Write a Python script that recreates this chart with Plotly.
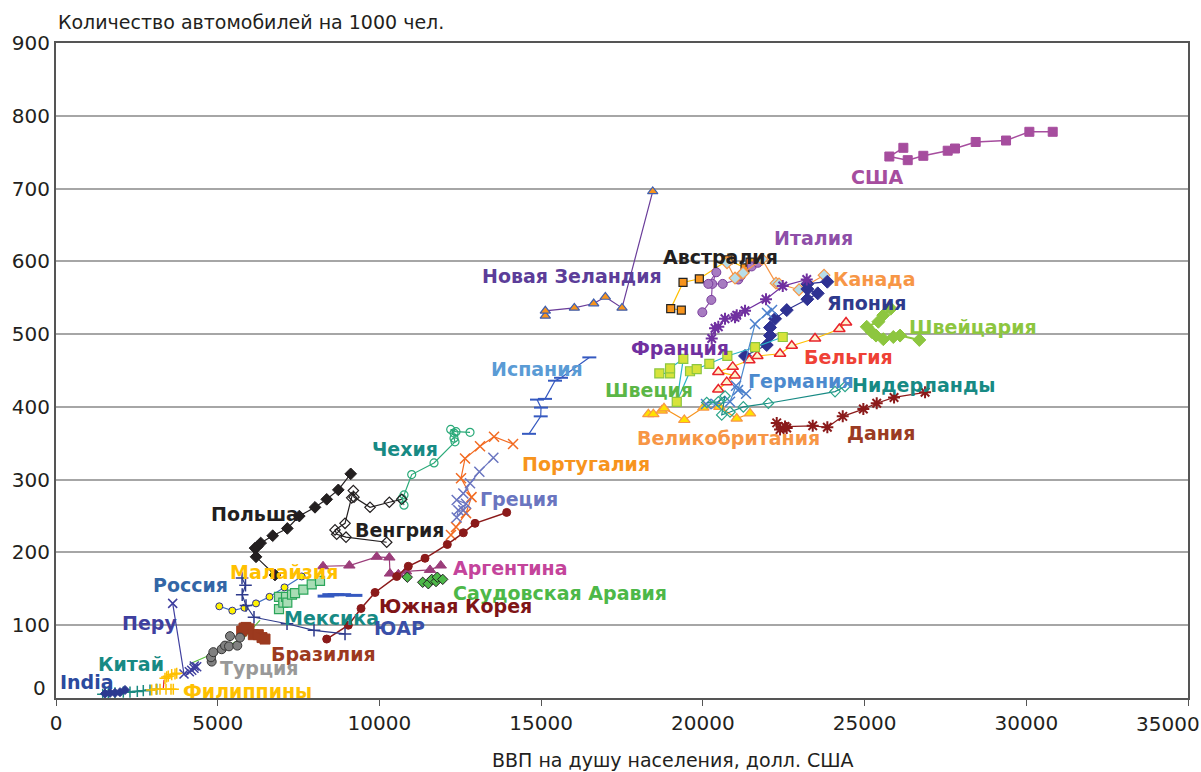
import plotly.graph_objects as go

# ВВП на душу населения (x) и автомобили на 1000 чел. (y) по странам
usa_gdp = [26199, 25766, 26334, 26817, 27570, 27796, 28436, 29374, 30095, 30817]
usa_cars = [756, 744, 739, 745, 752, 755, 764, 766, 778, 778]

nz_gdp = [15129, 15129, 16026, 16625, 16985, 17501, 18450]
nz_cars = [525, 532, 536, 542, 551, 536, 696]

aus_gdp = [19334, 19006, 19387, 19891, 20778, 21304, 21459]
aus_cars = [533, 535, 571, 576, 602, 591, 599]

ita_gdp = [19984, 20262, 20293, 20417, 20169, 20614, 21097, 21171, 21511, 21700]
ita_cars = [530, 547, 569, 585, 569, 569, 575, 580, 593, 598]

can_gdp = [20747, 20994, 21242, 21830, 22262, 22355, 22974, 23747]
can_cars = [598, 577, 584, 603, 570, 569, 561, 581]

jpn_gdp = [21304, 21975, 22077, 22077, 22232, 22594, 23230, 23552, 23230, 23230, 23849]
jpn_cars = [470, 485, 498, 509, 521, 533, 548, 556, 562, 569, 572]

fra_gdp = [20274, 20376, 20478, 20685, 20994, 21047, 21304, 21953, 22470, 23212]
fra_cars = [494, 508, 510, 521, 523, 526, 532, 548, 566, 575]

bel_gdp = [20478, 20738, 20994, 20478, 20923, 21437, 21684, 22386, 22748, 23468, 24220, 24427]
bel_cars = [424, 434, 443, 448, 455, 464, 470, 473, 484, 494, 507, 516]

swe_gdp = [18654, 18985, 18985, 19396, 19193, 19603, 19810, 20200, 20757, 21613, 22470]
swe_cars = [446, 446, 453, 466, 407, 449, 452, 459, 470, 482, 496]

gbr_gdp = [18314, 18469, 18728, 18799, 19427, 20015, 20510, 21047, 21458]
gbr_cars = [390, 390, 395, 398, 382, 399, 400, 384, 391]

deu_gdp = [20098, 20407, 20840, 21026, 21335, 21088, 21613, 21984, 22139]
deu_cars = [404, 404, 407, 429, 418, 423, 514, 529, 533]

nld_gdp = [20120, 20478, 20685, 20583, 20840, 21252, 22025, 24087, 24396]
nld_cars = [406, 407, 415, 389, 393, 400, 405, 421, 428]

dnk_gdp = [22284, 22386, 22593, 22541, 23397, 23849, 24325, 24962, 25376, 25911, 26870]
dnk_cars = [378, 369, 371, 373, 374, 372, 387, 397, 405, 413, 420]

che_gdp = [25809, 25580, 25426, 25067, 25221, 25354, 25580, 25889, 26097, 26693]
che_cars = [535, 526, 517, 510, 503, 498, 493, 496, 498, 492]

esp_gdp = [14625, 14987, 14996, 14872, 15120, 15429, 15615, 16490]
esp_cars = [363, 387, 399, 410, 411, 436, 440, 468]

prt_gdp = [12213, 12368, 12677, 12847, 12523, 12646, 13110, 13543, 14131]
prt_cars = [224, 235, 254, 276, 302, 329, 346, 359, 349]

grc_gdp = [12389, 12439, 12594, 12677, 12389, 12594, 12801, 13089, 13522]
grc_cars = [248, 258, 258, 267, 272, 281, 295, 311, 330]

cze_gdp = [10760, 10698, 10760, 10998, 11688, 12337, 12306, 12306, 12204, 12368, 12801]
cze_cars = [265, 274, 279, 307, 323, 352, 357, 364, 369, 366, 365]

hun_gdp = [10225, 8967, 8679, 8627, 8936, 9143, 9193, 9214, 9709, 10306, 10689]
hun_cars = [214, 221, 225, 231, 240, 275, 285, 276, 262, 269, 273]

pol_gdp = [6771, 6184, 6153, 6224, 6329, 6700, 7152, 7523, 8008, 8370, 8729, 9112]
pol_cars = [169, 194, 206, 208, 213, 223, 233, 250, 262, 273, 286, 308]

arg_gdp = [8256, 9070, 9916, 10306, 10327, 10584, 10822, 11564, 11895]
arg_cars = [181, 182, 194, 193, 171, 170, 174, 176, 182]

sau_gdp = [10862, 11338, 11511, 11617, 11750, 11790, 11957]
sau_cars = [166, 159, 157, 163, 160, 166, 163]

kor_gdp = [8370, 9038, 9431, 9864, 10535, 10893, 11409, 12099, 12594, 12955, 13935]
kor_cars = [81, 100, 123, 145, 167, 181, 192, 211, 227, 240, 255]

mys_gdp = [5049, 5451, 5828, 6184, 6601, 7065, 7597]
mys_cars = [126, 120, 124, 130, 139, 152, 167]

rus_gdp = [5751, 5859, 5757, 5875, 6122, 7143, 7977, 8936]
rus_cars = [165, 155, 142, 127, 111, 102, 93, 88]

mex_gdp = [6895, 6895, 7028, 7112, 7152, 7297, 7390, 7647, 7906, 8163]
mex_cars = [122, 139, 131, 139, 131, 142, 144, 149, 156, 161]

zaf_gdp = [8348, 8494, 8658, 8865, 9214]
zaf_cars = [140, 142, 142, 142, 141]

bra_gdp = [5742, 5813, 5875, 5968, 6101, 6255, 6370, 6462]
bra_cars = [92, 96, 97, 95, 87, 87, 83, 81]

tur_gdp = [4814, 4793, 4864, 5123, 5226, 5349, 5380, 5606, 5689]
tur_cars = [50, 56, 63, 67, 72, 71, 85, 72, 83]

oth_gdp = [4143, 4762, 5380, 5844, 6308]
oth_cars = [47, 59, 73, 84, 107]

per_gdp = [3608, 3958, 4122, 4196, 4267, 4350, 4276]
per_cars = [130, 33, 36, 38, 41, 43, 44]

chn_gdp = [1444, 1617, 1824, 2081, 2288, 2514, 2699, 2906, 3114]
chn_cars = [5, 7, 7, 8, 8, 9, 10, 11, 12]

ind_gdp = [1515, 1670, 1824, 1979, 2134]
ind_cars = [6, 7, 7, 8, 11]

phl_gdp = [2959, 3092, 3216, 3401, 3556, 3627]
phl_cars = [11, 12, 12, 12, 12, 12]

phl2_gdp = [3370, 3423, 3472, 3577, 3679, 3732]
phl2_cars = [27, 29, 30, 32, 33, 34]

red_gdp = [3318, 3339]
red_cars = [13, 25]

x_ticks = [0, 5000, 10000, 15000, 20000, 25000, 30000, 35000]
y_ticks = [0, 100, 200, 300, 400, 500, 600, 700, 800, 900]

FONT = "DejaVu Sans, Arial, sans-serif"
INK = "#231F20"

fig = go.Figure()


def add(x, y, line, symbol, size, fill, edge, lw=1.2, mode="lines+markers", edge_w=1):
    fig.add_trace(
        go.Scatter(
            x=x,
            y=y,
            mode=mode,
            line=dict(color=line, width=lw),
            marker=dict(symbol=symbol, size=size, color=fill, line=dict(color=edge, width=edge_w)),
            showlegend=False,
            hoverinfo="x+y",
        )
    )


add(oth_gdp, oth_cars, "#5BBF3F", "circle", 1, "#5BBF3F", "#5BBF3F", mode="lines")
add(usa_gdp, usa_cars, "#A64D9E", "square", 9, "#A64D9E", "#A64D9E", lw=1.5)
add(nz_gdp, nz_cars, "#6A3D9A", "triangle-up", 9, "#F7941D", "#3F5FB0", edge_w=1.2)
add(aus_gdp, aus_cars, "#FFC000", "square", 8, "#F7941D", "#222222", edge_w=1.2)
add(ita_gdp, ita_cars, "#8E4FA8", "circle", 9, "#A77BC1", "#7B3F9E")
add(can_gdp, can_cars, "#F79646", "diamond", 9, "#B7DDE8", "#F79646", edge_w=1.2)
add(jpn_gdp, jpn_cars, "#2E3192", "diamond", 10, "#2E3192", "#2E3192")
add(fra_gdp, fra_cars, "#7030A0", "asterisk-open", 10, "#7030A0", "#7030A0", edge_w=2)
add(bel_gdp, bel_cars, "#FFC000", "triangle-up", 10, "#FFF2CC", "#E8232B", edge_w=1.5)
add(swe_gdp, swe_cars, "#29B5C8", "square", 9, "#D7E33B", "#8DC63F", edge_w=1.2)
add(gbr_gdp, gbr_cars, "#F7941D", "triangle-up", 10, "#FFE100", "#F79646", edge_w=1.2)
add(deu_gdp, deu_cars, "#4C8ACE", "x-thin-open", 10, "#4C7FCC", "#4C7FCC", edge_w=1.5)
add(nld_gdp, nld_cars, "#178A84", "diamond-open", 8, "#2AA58A", "#2AA58A", edge_w=1.2)
add(dnk_gdp, dnk_cars, "#8B1A1A", "asterisk-open", 10, "#8B1A1A", "#8B1A1A", edge_w=2)
add(che_gdp, che_cars, "#8DC63F", "diamond", 10, "#8DC63F", "#8DC63F", lw=2)
add(esp_gdp, esp_cars, "#3559C0", "line-ew-open", 10, "#3559C0", "#3559C0", edge_w=2)
add(prt_gdp, prt_cars, "#F26B22", "x-thin-open", 10, "#F26B22", "#F26B22", edge_w=1.5)
add(grc_gdp, grc_cars, "#6A75C0", "x-thin-open", 10, "#6A75C0", "#6A75C0", edge_w=1.5)
add(cze_gdp, cze_cars, "#2AAA79", "circle-open", 8, "#2AAA79", "#2AAA79", edge_w=1.2)
add(hun_gdp, hun_cars, INK, "diamond-open", 8, INK, INK, edge_w=1.2)
add(pol_gdp, pol_cars, INK, "diamond", 9, INK, INK)
add(arg_gdp, arg_cars, "#9B3D7A", "triangle-up", 10, "#9B3D7A", "#9B3D7A")
add(sau_gdp, sau_cars, "#4DB848", "diamond", 8, "#4DB848", "#222222", mode="markers")
add(kor_gdp, kor_cars, "#8B1A1A", "circle", 8, "#8B1A1A", "#8B1A1A", lw=1.5)
add(mys_gdp, mys_cars, "#3F6FC0", "circle", 7, "#FFF200", "#2E3192")
add(rus_gdp, rus_cars, "#2E3A8C", "cross-thin-open", 9, "#2E3A8C", "#2E3A8C", edge_w=1.5)
add(mex_gdp, mex_cars, "#4DB848", "square", 9, "#A8DDB5", "#2AA55A", edge_w=1.2)
add(zaf_gdp, zaf_cars, "#3559C0", "line-ew-open", 12, "#3559C0", "#3559C0", mode="markers", edge_w=3)
add(bra_gdp, bra_cars, "#9C3A1F", "square", 10, "#9C3A1F", "#9C3A1F", lw=2)
add(tur_gdp, tur_cars, "#808080", "circle", 9, "#808080", "#333333", mode="markers")
add(per_gdp, per_cars, "#3F3F9F", "x-thin-open", 9, "#3F3F9F", "#3F3F9F", edge_w=1.5)
add(chn_gdp, chn_cars, "#1B8A80", "cross-thin-open", 8, "#1B8A80", "#1B8A80", edge_w=1.5)
add(ind_gdp, ind_cars, "#2B3990", "diamond", 7, "#2B3990", "#2B3990")
add(red_gdp, red_cars, "#E8232B", "circle", 1, "#E8232B", "#E8232B", mode="lines")
add(phl_gdp, phl_cars, "#FFC000", "cross-thin-open", 8, "#FFC000", "#FFC000", edge_w=1.5)
add(phl2_gdp, phl2_cars, "#FFC000", "cross-thin-open", 8, "#FFC000", "#FFC000", edge_w=1.5)

# подписи стран: текст, цвет, x, y (координаты данных)
labels = [
    ("США", "#A64D9E", 25370, 716),
    ("Новая Зеландия", "#5C3D99", 15955, 580),
    ("Австралия", INK, 20531, 606),
    ("Италия", "#8E4FA8", 23406, 632),
    ("Канада", "#F79646", 25293, 576),
    ("Япония", "#2E3A8C", 25045, 543),
    ("Франция", "#7030A0", 19294, 481),
    ("Швейцария", "#8DC63F", 28354, 510),
    ("Бельгия", "#EF4136", 24489, 469),
    ("Испания", "#5A9BD5", 14872, 452),
    ("Германия", "#4C8ACE", 23035, 436),
    ("Нидерланды", "#178A84", 26808, 430),
    ("Швеция", "#5BB646", 18336, 423),
    ("Великобритания", "#F79646", 20794, 357),
    ("Дания", "#9B3B23", 25509, 364),
    ("Чехия", "#178A84", 10791, 342),
    ("Португалия", "#F7941D", 16388, 322),
    ("Греция", "#6A75C0", 14316, 274),
    ("Польша", INK, 6138, 253),
    ("Венгрия", INK, 10636, 231),
    ("Малайзия", "#FFC000", 7050, 173),
    ("Аргентина", "#C4449B", 14038, 179),
    ("Россия", "#3366A6", 4159, 155),
    ("Саудовская Аравия", "#4DB848", 15569, 144),
    ("Южная Корея", "#7F1416", 12337, 126),
    ("Перу", "#3F3F9F", 2876, 103),
    ("Мексика", "#178A84", 8518, 110),
    ("ЮАР", "#3A4FA8", 10621, 96),
    ("Бразилия", "#9C3A1F", 8256, 61),
    ("Китай", "#178A84", 2319, 47),
    ("Турция", "#999999", 6277, 41),
    ("India", "#2B4A9E", 959, 22),
    ("Филиппины", "#FFC000", 5906, 9),
]
for text, color, lx, ly in labels:
    fig.add_annotation(
        x=lx, y=ly, text=f"<b>{text}</b>", showarrow=False, borderpad=0,
        font=dict(size=19, color=color, family=FONT), xanchor="center", yanchor="middle",
    )

fig.add_annotation(
    x=0, y=1, xref="paper", yref="paper", xanchor="left", yanchor="bottom",
    text="Количество автомобилей на 1000 чел.", showarrow=False, yshift=8,
    font=dict(size=19, color=INK, family=FONT),
)
fig.add_annotation(
    x=0.545, y=-0.095, xref="paper", yref="paper", xanchor="center", yanchor="middle",
    text="ВВП на душу населения, долл. США", showarrow=False,
    font=dict(size=19, color=INK, family=FONT),
)
# крайние подписи осей сдвинуты, как в исходной диаграмме
fig.add_annotation(
    x=0, y=y_ticks[0], xref="paper", yref="y", xanchor="right", yanchor="middle",
    text=str(y_ticks[0]), showarrow=False, xshift=-8, yshift=10,
    font=dict(size=20, color=INK, family=FONT),
)
fig.add_annotation(
    x=1, y=0, xref="paper", yref="paper", xanchor="right", yanchor="top",
    text=str(x_ticks[-1]), showarrow=False, xshift=14, yshift=-12,
    font=dict(size=20, color=INK, family=FONT),
)

x_text = [str(v) for v in x_ticks[:-1]] + [""]
y_text = [""] + [str(v) for v in y_ticks[1:]]

fig.update_layout(
    width=1201,
    height=772,
    margin=dict(l=56, r=13, t=43, b=74),
    plot_bgcolor="white",
    paper_bgcolor="white",
    font=dict(family=FONT, size=20, color=INK),
    xaxis=dict(
        range=[0, 35000], tickvals=x_ticks, ticktext=x_text,
        ticks="outside", ticklen=6, tickcolor="#555555", automargin=False,
        showgrid=False, showline=True, linecolor="#555555", linewidth=2, mirror=True,
        zeroline=False, tickfont=dict(size=20), ticklabelstandoff=0,
    ),
    yaxis=dict(
        range=[0, 900], tickvals=y_ticks, ticktext=y_text,
        ticks="", showgrid=True, gridcolor="#A6A6A6", automargin=False,
        gridwidth=1.5, showline=True, linecolor="#555555", linewidth=2, mirror=True,
        zeroline=False, tickfont=dict(size=20), ticklabelstandoff=0,
    ),
)

fig.write_html(
    "out.html",
    config={"displayModeBar": False},
    post_script="document.body.style.margin = '0px';",
)
